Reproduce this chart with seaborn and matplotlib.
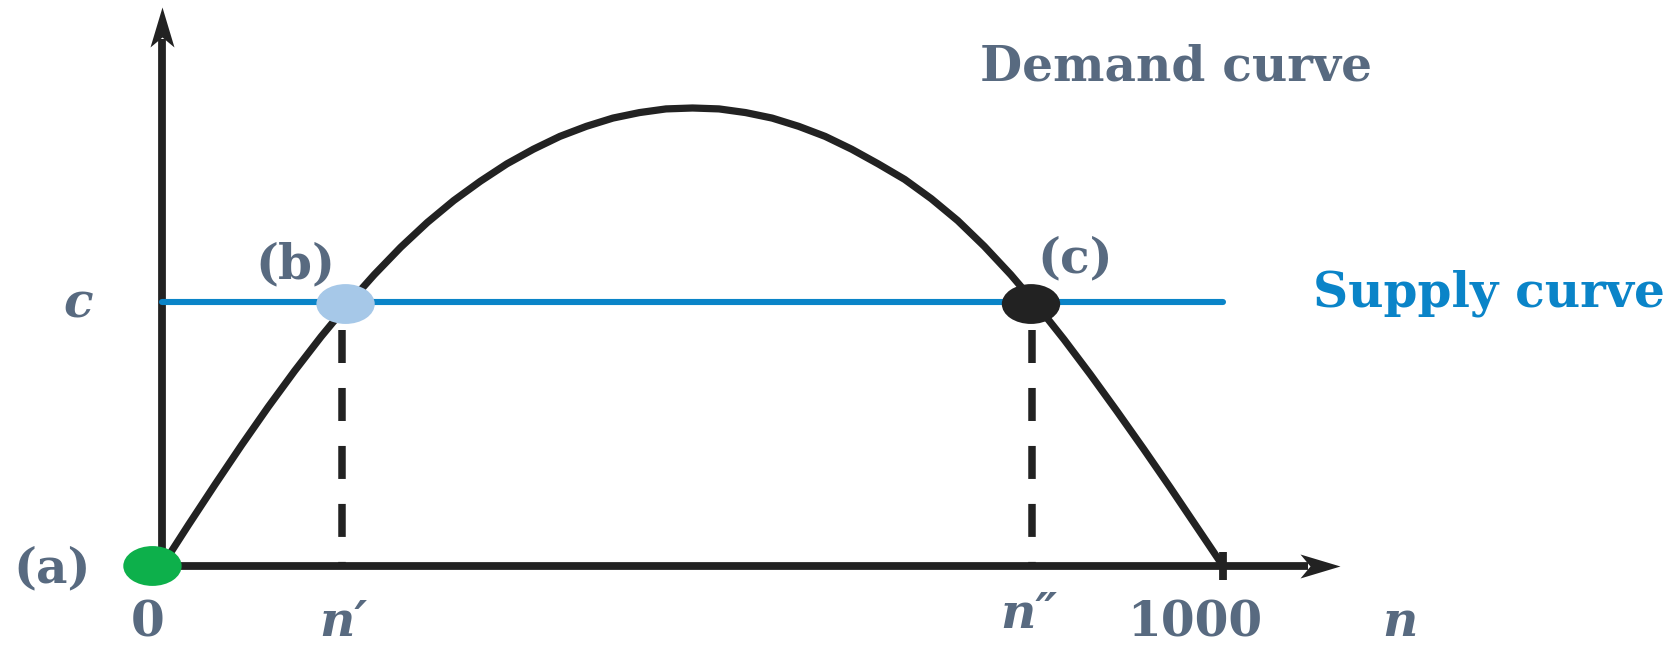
import matplotlib
matplotlib.use("Agg")
import matplotlib.pyplot as plt
from matplotlib.patches import Ellipse
from matplotlib.path import Path
import seaborn as sns

# demand curve (peak = 1)
n_grid = [0, 25, 50, 75, 100, 125, 150, 175, 200, 225, 250, 275, 300, 325, 350,
          375, 400, 425, 450, 475, 500, 525, 550, 575, 600, 625, 650, 675, 700,
          725, 750, 775, 800, 825, 850, 875, 900, 925, 950, 975, 1000]
demand = [0, .09, .178, .264, .347, .426, .501, .571, .636, .696, .75, .798, .84,
          .878, .91, .938, .96, .978, .99, .998, 1.0, .998, .99, .978, .96, .938,
          .91, .878, .844, .802, .754, .698, .636, .568, .495, .418, .338, .256,
          .172, .086, 0]

supply_n = [0, 1000]
supply_c = 0.577

# equilibria: (a) origin, (b) n', (c) n''
eq_labels = ["(a)", "(b)", "(c)"]
eq_n = [-9, 173, 819]
eq_y = [0.0, 0.572, 0.572]
eq_colors = ["#0db04b", "#a6c8e8", "#222222"]
n_prime = 170
n_dprime = 820
n_max = 1000

ink = "#222222"
label_col = "#586a80"
blue = "#0a84c8"

sns.set_theme(style="white")
plt.rcParams["font.family"] = ["DejaVu Serif"]

fig = plt.figure(figsize=(16.71, 6.45), dpi=100)
ax = fig.add_axes([0, 0, 1, 1])
ax.set_xlim(-152.7, 1422.2)
ax.set_ylim(-0.1725, 1.2358)
ax.set_axis_off()

# notched arrow heads
up_head = Path([(0, 0), (-0.3, -1), (0, -0.75), (0.3, -1), (0, 0)],
               [Path.MOVETO, Path.LINETO, Path.LINETO, Path.LINETO, Path.CLOSEPOLY])
right_head = Path([(0, 0), (-1, 0.3), (-0.75, 0), (-1, -0.3), (0, 0)],
                  [Path.MOVETO, Path.LINETO, Path.LINETO, Path.LINETO, Path.CLOSEPOLY])

ax.plot([0, 0], [0, 1.15], color=ink, lw=5.6, solid_capstyle="butt", zorder=2)
ax.plot([-4, 1080], [0, 0], color=ink, lw=5.6, solid_capstyle="butt", zorder=2)
ax.plot([0], [1.2205], marker=up_head, ms=57.6, color=ink, mew=0, ls="none", zorder=2)
ax.plot([1110], [0], marker=right_head, ms=57.6, color=ink, mew=0, ls="none", zorder=2)
ax.plot([n_max, n_max], [0.031, -0.031], color=ink, lw=5.6, solid_capstyle="butt")

# dashed drop lines
for xv in [n_prime, n_dprime]:
    ax.plot([xv, xv], [0.515, 0], color=ink, lw=5.4,
            ls=(0, (4.4, 3.33)), dash_capstyle="butt", zorder=2)

# supply and demand
sns.lineplot(x=supply_n, y=[supply_c] * len(supply_n), color=blue, lw=4.4,
             ax=ax, zorder=3)
sns.lineplot(x=n_grid, y=demand, color=ink, lw=5.2, ax=ax, zorder=4,
             sort=False)

for xc, yc, col in zip(eq_n, eq_y, eq_colors):
    ax.add_patch(Ellipse((xc, yc), 55, 0.087, color=col, lw=0, zorder=5))

fs = 35
bold = dict(color=label_col, fontweight="bold", ha="center", va="baseline")
ax.text(-103.2, -0.035, eq_labels[0], fontsize=fs, **bold)
ax.text(126, 0.627, eq_labels[1], fontsize=fs, **bold)
ax.text(861, 0.642, eq_labels[2], fontsize=fs, **bold)

ax.text(-13.7, -0.153, "0", fontsize=fs, **bold)
ax.text(973, -0.153, "1000", fontsize=fs, **bold)
ax.text(171, -0.153, "n\u2032", fontsize=fs, style="italic", **bold)
ax.text(816.7, -0.135, "n\u2033", fontsize=fs, style="italic", **bold)
ax.text(1166.8, -0.153, "n", fontsize=fs, style="italic", **bold)
ax.text(-79, 0.5415, "c", fontsize=fs, style="italic", **bold)

ax.text(956, 1.061, "Demand curve", fontsize=fs, **bold)
ax.text(1251, 0.5655, "Supply curve", fontsize=fs, color=blue,
        fontweight="bold", ha="center", va="baseline")

fig.savefig("out.png", dpi=100, facecolor="white")
